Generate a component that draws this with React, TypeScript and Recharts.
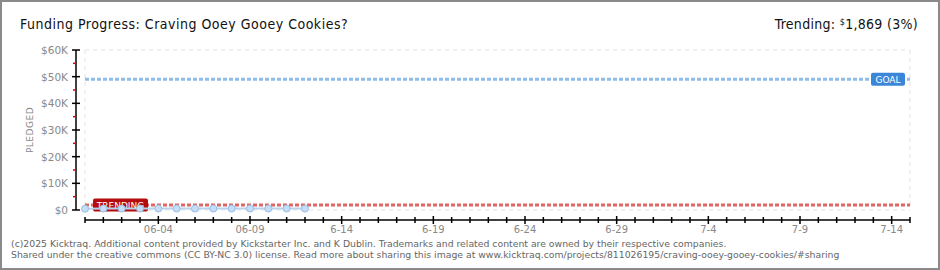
import {
  ComposedChart,
  Line,
  XAxis,
  YAxis,
  CartesianGrid,
  ReferenceLine,
} from 'recharts'

// day index 0 = 05-31
const pledgeDays = [0, 1, 2, 3, 4, 5, 6, 7, 8, 9, 10, 11, 12]
const pledgedValues = [480, 520, 530, 540, 540, 540, 540, 540, 540, 540, 540, 540, 540]
const goalAmount = 49000
const trendingAmount = 1869

const labelDays = [4, 9, 14, 19, 24, 29, 34, 39, 44]
const dayLabels = ['06-04', '06-09', '6-14', '6-19', '6-24', '6-29', '7-4', '7-9', '7-14']
const allDays = Array.from({ length: 46 }, (_, i) => i)

const yTicks = [0, 5000, 10000, 15000, 20000, 25000, 30000, 35000, 40000, 45000, 50000, 55000, 60000]
const yGridTicks = [0, 10000, 20000, 30000, 40000, 50000, 60000]

const data = pledgeDays.map((day, i) => ({ day, pledged: pledgedValues[i] }))

const axisFont = 'DejaVu Sans'

function DayTick(props: any) {
  const { x, y, payload } = props
  const i = labelDays.indexOf(payload.value)
  const len = i >= 0 ? 4 : 3
  return (
    <g>
      <line x1={x} x2={x} y1={y - len} y2={y + len} stroke="#000" strokeWidth={1.5} />
      {i >= 0 && (
        <text x={x} y={y + 13} textAnchor="middle" fontSize={10} fill="#888" fontFamily={axisFont}>
          {dayLabels[i]}
        </text>
      )}
    </g>
  )
}

function PledgeTick(props: any) {
  const { x, y, payload } = props
  const v = payload.value
  if (v % 10000 !== 0) {
    return <line x1={x - 3} x2={x} y1={y} y2={y} stroke="#e00000" strokeWidth={1.5} />
  }
  return (
    <g>
      <line x1={x - 4} x2={x + 4} y1={y} y2={y} stroke="#000" strokeWidth={1.5} />
      <text x={x - 8} y={y + 4} textAnchor="end" fontSize={10.5} fill="#888" fontFamily={axisFont}>
        {v === 0 ? '$0' : `$${v / 1000}K`}
      </text>
    </g>
  )
}

function GoalTag(props: any) {
  const { viewBox } = props
  const right = viewBox.x + viewBox.width
  const y = viewBox.y
  return (
    <g>
      <rect x={right - 39} y={y - 6.5} width={34} height={13} rx={2} fill="#3b86d8" />
      <text x={right - 22} y={y + 3.5} textAnchor="middle" fontSize={9} fill="#fff" fontFamily={axisFont}>
        GOAL
      </text>
    </g>
  )
}

function TrendTag(props: any) {
  const { viewBox } = props
  const left = viewBox.x
  const y = viewBox.y
  return (
    <g>
      <rect x={left + 8} y={y - 6.5} width={55} height={13} rx={2} fill="#b50d0d" />
      <text x={left + 35.5} y={y + 3.5} textAnchor="middle" fontSize={9} fill="#fff" fontFamily={axisFont}>
        TRENDING
      </text>
    </g>
  )
}

export default function App() {
  return (
    <div style={{ position: 'absolute', left: 0, top: 0, width: 940, height: 270, background: '#fff' }}>
      <ComposedChart width={940} height={270} data={data} margin={{ top: 50, right: 30, bottom: 25, left: 0 }}>
        <CartesianGrid xAxisId="gx" yAxisId="gy" stroke="#e2e2e2" strokeDasharray="4 4" />
        <XAxis
          xAxisId="px"
          type="number"
          dataKey="day"
          domain={[0, 45]}
          ticks={allDays}
          interval={0}
          height={25}
          axisLine={{ stroke: '#000', strokeWidth: 1.5 }}
          tickLine={false}
          tickSize={0}
          tickMargin={0}
          tick={<DayTick />}
        />
        <YAxis
          yAxisId="py"
          type="number"
          domain={[0, 60000]}
          ticks={yTicks}
          interval={0}
          width={76}
          axisLine={{ stroke: '#000', strokeWidth: 1.5 }}
          tickLine={false}
          tickSize={0}
          tickMargin={0}
          tick={<PledgeTick />}
        />
        <XAxis
          xAxisId="gx"
          type="number"
          dataKey="day"
          domain={[0, 45]}
          ticks={allDays}
          height={10}
          axisLine={false}
          tickLine={false}
          tick={false}
        />
        <YAxis
          yAxisId="gy"
          type="number"
          domain={[0, 60000]}
          ticks={yGridTicks}
          width={9}
          axisLine={false}
          tickLine={false}
          tick={false}
        />
        <ReferenceLine
          xAxisId="px"
          yAxisId="py"
          y={goalAmount}
          stroke="#8ebce9"
          strokeWidth={3}
          strokeDasharray="4 2"
          label={<GoalTag />}
        />
        <ReferenceLine
          xAxisId="px"
          yAxisId="py"
          y={trendingAmount}
          stroke="#e06666"
          strokeWidth={3}
          strokeDasharray="4 2"
          label={<TrendTag />}
        />
        <Line
          xAxisId="px"
          yAxisId="py"
          dataKey="pledged"
          stroke="#b8d2ee"
          strokeWidth={2}
          dot={{ r: 3.5, fill: '#c6ddf6', stroke: '#96bde8', strokeWidth: 1 }}
          isAnimationActive={false}
        />
      </ComposedChart>

      <svg width={940} height={270} style={{ position: 'absolute', left: 0, top: 0, pointerEvents: 'none' }}>
        <text x={20} y={28.5} fontSize={14} fill="#111" fontFamily="DejaVu Sans Condensed" letterSpacing={0.5}>
          Funding Progress: Craving Ooey Gooey Cookies?
        </text>
        <text
          x={918}
          y={28.5}
          textAnchor="end"
          fontSize={14}
          fill="#111"
          fontFamily="DejaVu Sans Condensed"
          letterSpacing={0.3}
        >
          Trending:{' '}
          <tspan fontSize={9} dy={-4}>$</tspan>
          <tspan dy={4}>1,869 (3%)</tspan>
        </text>
        <text
          transform="translate(33,130) rotate(-90)"
          textAnchor="middle"
          fontSize={9}
          fill="#888"
          fontFamily={axisFont}
          letterSpacing={0.5}
        >
          PLEDGED
        </text>
        <text x={11} y={247} fontSize={9.3} fill="#666" fontFamily={axisFont}>
          (c)2025 Kicktraq. Additional content provided by Kickstarter Inc. and K Dublin. Trademarks and related content are owned by their respective companies.
        </text>
        <text x={11} y={258} fontSize={9.3} fill="#666" fontFamily={axisFont}>
          Shared under the creative commons (CC BY-NC 3.0) license. Read more about sharing this image at www.kicktraq.com/projects/811026195/craving-ooey-gooey-cookies/#sharing
        </text>
      </svg>
      <div
        style={{
          position: 'absolute',
          left: 0,
          top: 0,
          width: 940,
          height: 270,
          boxSizing: 'border-box',
          border: '2px solid #8a8a8a',
          pointerEvents: 'none',
        }}
      />
    </div>
  )
}
